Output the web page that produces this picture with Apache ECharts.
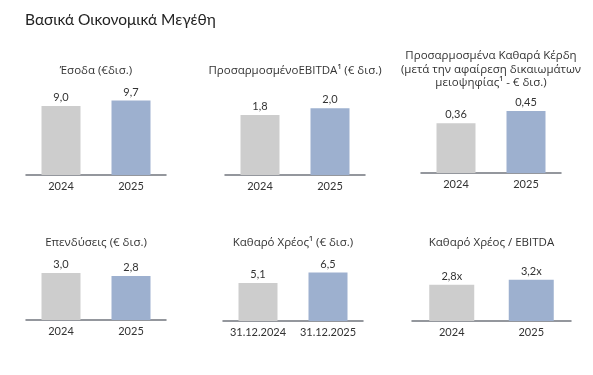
<!DOCTYPE html>
<html>
<head>
<meta charset="utf-8">
<script src="https://cdn.jsdelivr.net/npm/echarts@6/dist/echarts.min.js"></script>
<style>
html,body{margin:0;padding:0;background:#fff;}
#chart{width:593px;height:375px;}
</style>
</head>
<body>
<div id="chart"></div>
<script>
// ---- Data ----
const mainTitle = "Βασικά Οικονομικά Μεγέθη";
const panelTitles = [
  "Έσοδα (€δισ.)",
  "ΠροσαρμοσμένοEBITDA¹ (€ δισ.)",
  "Προσαρμοσμένα Καθαρά Κέρδη\n(μετά την αφαίρεση δικαιωμάτων\nμειοψηφίας¹ - € δισ.)",
  "Επενδύσεις (€ δισ.)",
  "Καθαρό Χρέος¹ (€ δισ.)",
  "Καθαρό Χρέος / EBITDA"
];
const yearCats = ["2024", "2025"];
const dateCats = ["31.12.2024", "31.12.2025"];
const revenues = [9.0, 9.7];
const adjEbitda = [1.8, 2.0];
const adjNetProfit = [0.36, 0.45];
const investments = [3.0, 2.8];
const netDebt = [5.1, 6.5];
const netDebtToEbitda = [2.8, 3.2];

const panelCats = [yearCats, yearCats, yearCats, yearCats, dateCats, yearCats];
const panelValues = [revenues, adjEbitda, adjNetProfit, investments, netDebt, netDebtToEbitda];
const panelDecimals = [1, 1, 2, 1, 1, 1];
const panelSuffix = ["", "", "", "", "", "x"];

// ---- Layout / style ----
const layout = [
  {left: 26,  top: 95,  width: 140, height: 80, max: 10.43, bw: 39, titleY: 71},
  {left: 225, top: 95,  width: 140, height: 80, max: 2.4,   bw: 39, titleY: 71},
  {left: 421, top: 93,  width: 140, height: 80, max: 0.58,  bw: 39, titleY: 56},
  {left: 26,  top: 240, width: 140, height: 80, max: 5.1,   bw: 39, titleY: 243},
  {left: 223, top: 241, width: 140, height: 80, max: 10.74, bw: 39, titleY: 243},
  {left: 412, top: 241, width: 159, height: 80, max: 6.2,   bw: 45, titleY: 243}
];
const LINE_H = 13.5;
const colors = ["#cdcdcd", "#9db0cf"];
const font = "Lato, 'Noto Sans', sans-serif";
const titleFont = "'Open Sans', 'Noto Sans', sans-serif";
const textColor = "#333333";

const grids = [], xAxes = [], yAxes = [], series = [], titles = [];
titles.push({
  text: mainTitle, left: 20, top: 7,
  textStyle: {fontFamily: font, fontSize: 15.5, fontWeight: 'normal', color: '#222'}
});
layout.forEach((L, i) => {
  grids.push({left: L.left, top: L.top, width: L.width, height: L.height, containLabel: false});
  xAxes.push({
    type: 'category', gridIndex: i, data: panelCats[i],
    axisLine: {show: true, lineStyle: {color: '#72757e', width: 1.5}},
    axisTick: {show: false},
    axisLabel: {color: textColor, fontFamily: font, fontSize: 11, margin: 6, interval: 0, hideOverlap: false}
  });
  yAxes.push({
    type: 'value', gridIndex: i, min: 0, max: L.max,
    show: false, splitLine: {show: false}
  });
  series.push({
    type: 'bar', xAxisIndex: i, yAxisIndex: i, barWidth: L.bw,
    data: panelValues[i].map((v, k) => ({value: v, itemStyle: {color: colors[k]}})),
    label: {
      show: true, position: 'top', distance: 3,
      color: textColor, fontFamily: font, fontSize: 11,
      formatter: p => p.value.toFixed(panelDecimals[i]).replace('.', ',') + panelSuffix[i]
    },
    silent: true, animation: false
  });
  panelTitles[i].split('\n').forEach((line, k) => {
    titles.push({
      text: line, padding: 0,
      left: L.left + L.width / 2, top: L.titleY + k * LINE_H - LINE_H / 2, textAlign: 'center',
      textStyle: {fontFamily: titleFont, fontSize: 11.5, fontWeight: 'normal', color: textColor, lineHeight: LINE_H}
    });
  });
});

const chart = echarts.init(document.getElementById('chart'), null, {renderer: 'canvas'});
chart.setOption({
  backgroundColor: '#ffffff',
  animation: false,
  title: titles,
  grid: grids,
  xAxis: xAxes,
  yAxis: yAxes,
  series: series
});
</script>
</body>
</html>
